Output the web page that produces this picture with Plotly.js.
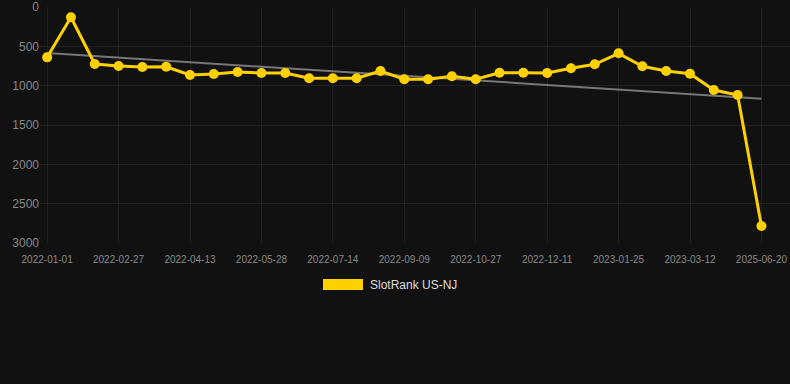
<!DOCTYPE html>
<html>
<head>
<meta charset="utf-8">
<script src="https://cdn.plot.ly/plotly-3.0.1.min.js"></script>
<style>
html,body{margin:0;padding:0;background:#111111;}
#chart{width:790px;height:384px;}
</style>
</head>
<body>
<div id="chart"></div>
<script>
const dates = [
  "2022-01-01","2022-01-20","2022-02-08","2022-02-27","2022-03-13","2022-03-28",
  "2022-04-13","2022-04-28","2022-05-13","2022-05-28","2022-06-12","2022-06-28",
  "2022-07-14","2022-07-31","2022-08-20","2022-09-09","2022-09-25","2022-10-11",
  "2022-10-27","2022-11-11","2022-11-26","2022-12-11","2022-12-26","2023-01-10",
  "2023-01-25","2023-02-09","2023-02-25","2023-03-12","2023-03-27","2023-04-11",
  "2025-06-20"
];
const ranks = [
  640,130,725,750,763,760,
  864,851,826,839,839,906,
  906,906,813,919,919,881,
  919,835,835,839,779,728,
  589,754,813,848,1055,1118,
  2783
];
const tickLabels = ["2022-01-01","2022-02-27","2022-04-13","2022-05-28","2022-07-14",
  "2022-09-09","2022-10-27","2022-12-11","2023-01-25","2023-03-12","2025-06-20"];
const yTicks = [0,500,1000,1500,2000,2500,3000];
const seriesName = "SlotRank US-NJ";

// least-squares trend over category index
const n = ranks.length;
const idx = ranks.map((_, i) => i);
const mx = idx.reduce((a,b)=>a+b,0)/n;
const my = ranks.reduce((a,b)=>a+b,0)/n;
let num = 0, den = 0;
for (let i = 0; i < n; i++) { num += (i-mx)*(ranks[i]-my); den += (i-mx)*(i-mx); }
const slope = num/den, icpt = my - slope*mx;
const trend = idx.map(i => icpt + slope*i);

const gold = "#FFD100";
const traces = [
  {x: dates, y: trend, type: "scatter", mode: "lines",
   line: {color: "#777777", width: 2}, showlegend: false, hoverinfo: "skip"},
  {x: dates, y: ranks, type: "scatter", mode: "lines+markers", name: seriesName,
   line: {color: gold, width: 3}, marker: {color: gold, size: 10}, showlegend: false}
];

const layout = {
  width: 790, height: 384,
  paper_bgcolor: "#111111", plot_bgcolor: "#111111",
  margin: {l: 40, r: 0, t: 7, b: 141},
  font: {family: "Liberation Sans, Arial, sans-serif", color: "#888888"},
  xaxis: {
    type: "category", categoryorder: "array", categoryarray: dates,
    range: [-0.3, 31.2],
    tickvals: tickLabels, ticktext: tickLabels,
    tickfont: {size: 10, color: "#888888"},
    showgrid: true, gridcolor: "#202020", gridwidth: 1,
    zeroline: false, showline: false, ticks: "", ticklen: 0,
    ticklabelstandoff: 9
  },
  yaxis: {
    range: [3000, 0], tickvals: yTicks,
    tickfont: {size: 12, color: "#888888"},
    showgrid: true, gridcolor: "#202020", gridwidth: 1,
    zeroline: false, showline: false, ticks: "", ticklen: 0
  },
  shapes: [
    {type: "rect", xref: "paper", yref: "paper",
     x0: (323-40)/750, x1: (363-40)/750, y0: (243-290)/236, y1: (243-279)/236,
     fillcolor: gold, line: {width: 0}}
  ],
  annotations: [
    {xref: "paper", yref: "paper", x: (368-40)/750, y: (243-284.5)/236,
     xanchor: "left", yanchor: "middle", showarrow: false,
     text: seriesName, font: {size: 12, color: "#dddddd"}}
  ]
};

Plotly.newPlot("chart", traces, layout, {displayModeBar: false, staticPlot: true});
</script>
</body>
</html>
